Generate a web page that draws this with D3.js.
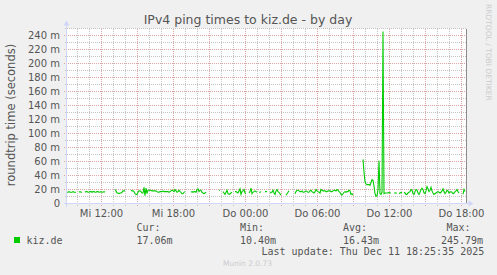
<!DOCTYPE html>
<html>
<head>
<meta charset="utf-8">
<script src="https://cdn.jsdelivr.net/npm/d3@7"></script>
<style>
    body { margin: 0; background: #f0f0f0; }
    svg { display: block; font-family: "DejaVu Sans", sans-serif; }
    .mono { font-family: "DejaVu Sans Mono", monospace; font-size: 10px; fill: #555; }
</style>
</head>
<body>
<div id="chart"></div>
<script>
const title = "IPv4 ping times to kiz.de - by day";
const yLabel = "roundtrip time (seconds)";
const seriesName = "kiz.de";
const startTime = Date.UTC(2025, 11, 10, 9, 5);   // Mi 09:05, one sample per 5 min
const endTime = Date.UTC(2025, 11, 11, 18, 25);
const stepMs = 5 * 60 * 1000;

// roundtrip time in milliseconds, null = no data
const pingMs = [
    16,16,17,16,16,16,17,16,16,16, null,null, 16,17,16,16, null,null,
    16,17,17,16,16,17,17,16,17,17,16,16,17,17,16,16,17,16,16,17,16,
    null,null,null,null,null,null,null,null,null,
    20,18,15,15,14,15,15,16,18,18,18,
    null,null,null,null,null,
    19,18,18,17,14,13,13,16,18,18,17,15,15,23,11,22,14,19,19,19,19,18,18,18,18,18,17,16,16,
    17,17,17,18,17,17,17,17,17,16,17,
    18,19,18,17,20,18,16,17,19,17,16,14,14,16,17,
    null,null,null,null,null,
    16,17,16,17,17,16,20,21,17,19,19,16,15,14,15,16,
    null,null,null,null,null,null,null,null,null,null,null,null,
    19,19, null,null,
    17,15,13,16,19,14,13,14,15,16, null,null,
    17,17,16,15,18,21,13,17,18,20,15,14, null,null,
    15,17,22,14,16,17,18,17,16, null,
    16,16,17, null,null,null,
    17,17,17, null,null,
    15,16,16,19,15,13,18,20,17,16,14,12, null,null,null,null,
    12,14,16,18, null,null,null,null,null,
    14,17,19,19,18,17,17,18,16,16,17,18,17,16,16,18,19,17,16,15,17,20,18,17,16,
    15,20,19,18,18,18,17,17,18,18,18,17,17,18,19,19,18,20,19,17,16,13,12,14,16,17,16,17,17,19,18,13,14,12,
    null,null,null,null,null,null,null,null,null,
    63,45,31,28,27,27,27,26,30,34,33,25,14,10.4,11,20,61,14,13,16,245.79,14,
    15,15,15,15,16,15,15, null,null,
    15,15,15,15, null,
    14,15,16,15, null,
    16,15,13,13,15,16,17,20,19,14,13,17,20,19,15,13,16,20,22,20,15,14,18,24,21,17,
    19,23,18,15,13,14,15,16,17,16,15,16,18,21,17,14,16,19,18,15,16,17,16,14,15,17,18,20,17,15,
    null,null,null,
    13,20,17.06, null
];

const yTicks = [0, 20, 40, 60, 80, 100, 120, 140, 160, 180, 200, 220, 240];
const yMinor = [10, 30, 50, 70, 90, 110, 130, 150, 170, 190, 210, 230, 250];
const statLabels = ["Cur:", "Min:", "Avg:", "Max:"];
const statValues = ["17.06m", "10.40m", "16.43m", "245.79m"];
const lastUpdate = "Last update: Thu Dec 11 18:25:35 2025";
const sideText = "RRDTOOL / TOBI OETIKER";
const footer = "Munin 2.0.73";

const W = 497, H = 275;
const plot = {left: 66.5, top: 28.5, width: 400, height: 175};

const de = d3.timeFormatLocale({
    dateTime: "%A, der %e. %B %Y, %X", date: "%d.%m.%Y", time: "%H:%M:%S",
    periods: ["AM", "PM"],
    days: ["Sonntag", "Montag", "Dienstag", "Mittwoch", "Donnerstag", "Freitag", "Samstag"],
    shortDays: ["So", "Mo", "Di", "Mi", "Do", "Fr", "Sa"],
    months: ["Januar", "Februar", "März", "April", "Mai", "Juni", "Juli", "August", "September", "Oktober", "November", "Dezember"],
    shortMonths: ["Jan", "Feb", "Mrz", "Apr", "Mai", "Jun", "Jul", "Aug", "Sep", "Okt", "Nov", "Dez"]
});
const tickFmt = de.utcFormat("%a %H:%M");

const svg = d3.select("#chart").append("svg")
    .attr("width", W)
    .attr("height", H);

svg.append("rect").attr("width", W).attr("height", H).attr("fill", "#f0f0f0");

const x = d3.scaleUtc()
    .domain([new Date(startTime), new Date(endTime)])
    .range([plot.left, plot.left + plot.width]);

const y = d3.scaleLinear()
    .domain([0, 250])
    .range([plot.top + plot.height, plot.top]);

// canvas
svg.append("rect")
    .attr("x", plot.left)
    .attr("y", plot.top)
    .attr("width", plot.width)
    .attr("height", plot.height)
    .attr("fill", "#ffffff");

const grid = svg.append("g").attr("shape-rendering", "crispEdges");
const bottom = plot.top + plot.height;

// minor grid
const hours = x.ticks(d3.utcHour.every(1));
grid.selectAll(".vminor")
    .data(hours.filter(d => d.getUTCHours() % 3 != 0))
    .enter().append("line")
    .attr("x1", d => Math.round(x(d) - 0.5) + 0.5)
    .attr("x2", d => Math.round(x(d) - 0.5) + 0.5)
    .attr("y1", plot.top)
    .attr("y2", bottom + 2)
    .attr("stroke", "#c4c4c4")
    .attr("stroke-dasharray", "1,1");

grid.selectAll(".hminor")
    .data(yMinor)
    .enter().append("line")
    .attr("x1", plot.left - 2)
    .attr("x2", plot.left + plot.width)
    .attr("y1", d => y(d))
    .attr("y2", d => y(d))
    .attr("stroke", "#c4c4c4")
    .attr("stroke-dasharray", "1,1");

// major grid
grid.selectAll(".vmajor")
    .data(hours.filter(d => d.getUTCHours() % 3 == 0))
    .enter().append("line")
    .attr("x1", d => Math.round(x(d) - 0.5) + 0.5)
    .attr("x2", d => Math.round(x(d) - 0.5) + 0.5)
    .attr("y1", plot.top)
    .attr("y2", bottom + 3)
    .attr("stroke", "#dea4a4")
    .attr("stroke-dasharray", "1,1");

grid.selectAll(".hmajor")
    .data(yTicks.filter(d => d > 0))
    .enter().append("line")
    .attr("x1", plot.left - 3)
    .attr("x2", plot.left + plot.width)
    .attr("y1", d => y(d))
    .attr("y2", d => y(d))
    .attr("stroke", "#dea4a4")
    .attr("stroke-dasharray", "1,1");

// y tick labels
svg.selectAll(".ylab")
    .data(yTicks)
    .enter().append("text")
    .attr("x", 60)
    .attr("y", d => y(d) + 3.5)
    .attr("text-anchor", "end")
    .attr("font-size", 10)
    .attr("fill", "#555")
    .text(d => d == 0 ? "0" : d + " m");

// x tick labels
svg.selectAll(".xlab")
    .data(x.ticks(d3.utcHour.every(6)))
    .enter().append("text")
    .attr("x", d => x(d))
    .attr("y", 217)
    .attr("text-anchor", "middle")
    .attr("font-size", 10)
    .attr("fill", "#555")
    .text(d => tickFmt(d));

// series line
const line = d3.line()
    .defined(d => d != null)
    .x((d, i) => x(new Date(startTime + (i + 0.5) * stepMs)))
    .y(d => y(d));

svg.append("path")
    .datum(pingMs)
    .attr("d", line)
    .attr("fill", "none")
    .attr("stroke", "#00cc00")
    .attr("stroke-width", 1.1);

// right border line
svg.append("line")
    .attr("x1", plot.left + plot.width)
    .attr("x2", plot.left + plot.width)
    .attr("y1", plot.top)
    .attr("y2", bottom)
    .attr("stroke", "#8c8c8c")
    .attr("shape-rendering", "crispEdges");

// axes with arrows
const axisCol = "#cfd6f8";
svg.append("line")
    .attr("x1", plot.left).attr("x2", plot.left)
    .attr("y1", bottom + 3).attr("y2", plot.top - 4)
    .attr("stroke", axisCol).attr("shape-rendering", "crispEdges");
svg.append("line")
    .attr("x1", plot.left - 3).attr("x2", plot.left + plot.width + 4)
    .attr("y1", bottom).attr("y2", bottom)
    .attr("stroke", axisCol).attr("shape-rendering", "crispEdges");
svg.append("path")
    .attr("d", `M${plot.left - 3},${plot.top - 3} L${plot.left},${plot.top - 8} L${plot.left + 3},${plot.top - 3} Z`)
    .attr("fill", axisCol);
svg.append("path")
    .attr("d", `M${plot.left + plot.width + 2},${bottom - 3} L${plot.left + plot.width + 7},${bottom} L${plot.left + plot.width + 2},${bottom + 3} Z`)
    .attr("fill", axisCol);

// title and labels
svg.append("text")
    .attr("x", 248)
    .attr("y", 24)
    .attr("text-anchor", "middle")
    .attr("font-size", 12.5)
    .attr("fill", "#555")
    .text(title);

svg.append("text")
    .attr("transform", "translate(15,115) rotate(-90)")
    .attr("text-anchor", "middle")
    .attr("font-size", 11.5)
    .attr("fill", "#555")
    .text(yLabel);

svg.append("text")
    .attr("transform", "translate(485.5,4) rotate(90)")
    .attr("font-size", 7.5)
    .attr("fill", "#cccccc")
    .text(sideText);

// legend
svg.append("rect")
    .attr("x", 14).attr("y", 237)
    .attr("width", 6).attr("height", 6)
    .attr("fill", "#00cc00");

svg.append("text").attr("class", "mono")
    .attr("x", 26.5).attr("y", 243.5)
    .text(seriesName);

const statX = [136.5, 240, 343, 446.5];
const valX = [136.5, 240, 343, 441];
svg.selectAll(".statlab")
    .data(statLabels)
    .enter().append("text")
    .attr("class", "mono")
    .attr("x", (d, i) => statX[i])
    .attr("y", 230.5)
    .text(d => d);

svg.selectAll(".statval")
    .data(statValues)
    .enter().append("text")
    .attr("class", "mono")
    .attr("x", (d, i) => valX[i])
    .attr("y", 243.5)
    .text(d => d);

svg.append("text").attr("class", "mono")
    .attr("x", 261.5).attr("y", 254.5)
    .text(lastUpdate);

svg.append("text")
    .attr("x", 223).attr("y", 266)
    .attr("font-size", 7.5)
    .attr("fill", "#cccccc")
    .text(footer);
</script>
</body>
</html>
